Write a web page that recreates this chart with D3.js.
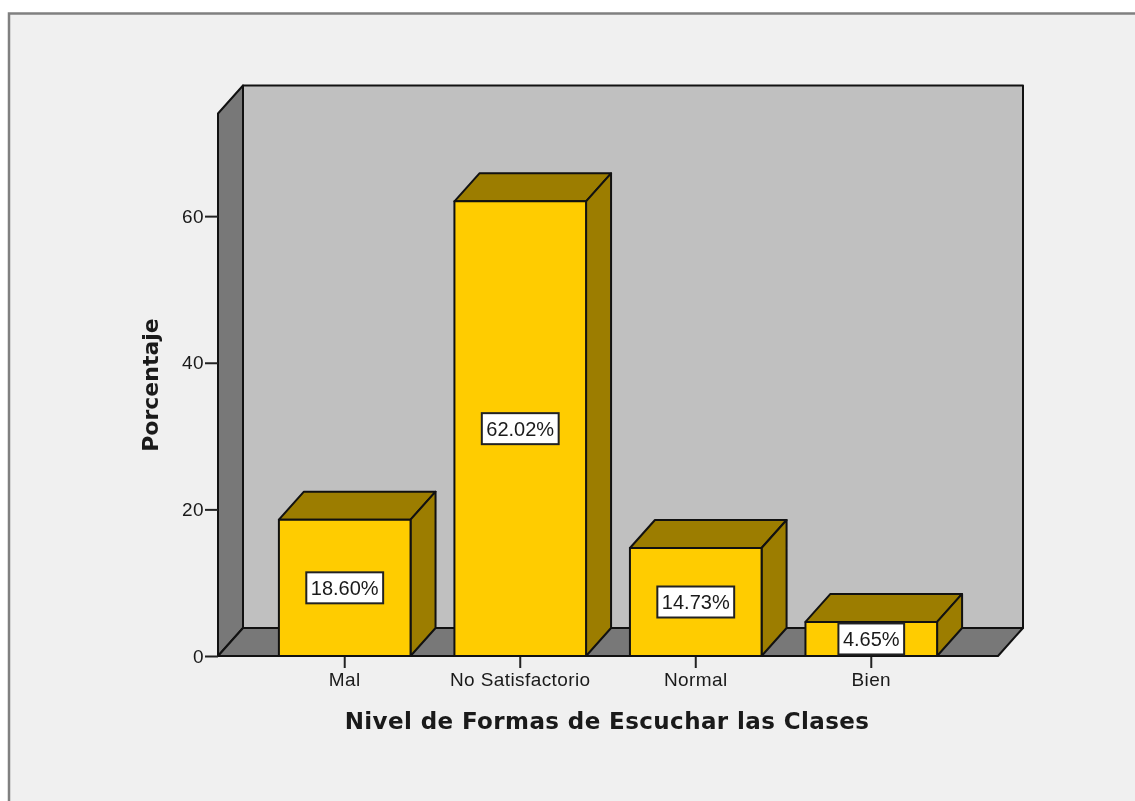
<!DOCTYPE html>
<html>
<head>
<meta charset="utf-8">
<script src="https://cdn.jsdelivr.net/npm/d3@7"></script>
<style>
    html, body { margin: 0; padding: 0; background: #fff; overflow: hidden; }
    svg { display: block; filter: blur(0.45px); }
    text { fill: #1a1a1a; }
</style>
</head>
<body>
<svg id="chart" width="1135" height="801"></svg>
<script>
// values
const categories = ["Mal", "No Satisfactorio", "Normal", "Bien"];
const percentages = [18.60, 62.02, 14.73, 4.65];
const percentLabels = ["18.60%", "62.02%", "14.73%", "4.65%"];
const yTicks = [0, 20, 40, 60];

const width = 1135, height = 801;
const depthX = 25, depthY = -28; // 3d offset of the back wall

const svg = d3.select("#chart");

const x = d3.scaleBand()
    .domain(categories)
    .range([218, 998])
    .paddingInner(0.25)
    .paddingOuter(0.347);

const y = d3.scaleLinear()
    .domain([0, 74])
    .range([656, 113.5]);

const line = d3.line();

function face(points, fill) {
    svg.append("path")
        .attr("d", line(points) + "Z")
        .attr("fill", fill)
        .attr("stroke", "#111")
        .attr("stroke-width", 2)
        .attr("stroke-linejoin", "round");
}

// outer frame
svg.append("rect")
    .attr("x", 9).attr("y", 13.5)
    .attr("width", width + 20).attr("height", height + 20)
    .attr("fill", "#f0f0f0")
    .attr("stroke", "#808080")
    .attr("stroke-width", 2.5);

// back wall, side wall, floor
const [x0, x1] = x.range();
const [y0, y1] = y.range();
face([[x0 + depthX, y0 + depthY], [x1 + depthX, y0 + depthY], [x1 + depthX, y1 + depthY], [x0 + depthX, y1 + depthY]], "#c0c0c0");
face([[x0, y0], [x0 + depthX, y0 + depthY], [x0 + depthX, y1 + depthY], [x0, y1]], "#787878");
face([[x0, y0], [x1, y0], [x1 + depthX, y0 + depthY], [x0 + depthX, y0 + depthY]], "#787878");

// y axis
const yAxis = svg.append("g")
    .attr("transform", `translate(${x0},0)`)
    .call(d3.axisLeft(y).tickValues(yTicks).tickSize(13).tickPadding(1).tickFormat(d3.format("d")));
yAxis.select(".domain").remove();

// x axis
const xAxis = svg.append("g")
    .attr("transform", `translate(0,${y0})`)
    .call(d3.axisBottom(x).tickSize(12).tickPadding(5));
xAxis.select(".domain").remove();

svg.selectAll(".tick line").attr("stroke", "#222").attr("stroke-width", 2);
svg.selectAll(".tick text")
    .attr("font-family", "'Liberation Sans', Arial, sans-serif")
    .attr("font-size", 19)
    .attr("letter-spacing", 0.4);

// bars
categories.forEach((c, i) => {
    const left = x(c), right = left + x.bandwidth();
    const top = y(percentages[i]);
    face([[left, top], [right, top], [right + depthX, top + depthY], [left + depthX, top + depthY]], "#9c7d00");
    face([[right, y0], [right + depthX, y0 + depthY], [right + depthX, top + depthY], [right, top]], "#9c7d00");
    face([[left, y0], [right, y0], [right, top], [left, top]], "#ffcc00");

    // value label box
    const cx = left + x.bandwidth() / 2, cy = (top + y0) / 2;
    const box = svg.append("rect").attr("fill", "#fff").attr("stroke", "#222").attr("stroke-width", 2);
    const label = svg.append("text")
        .attr("x", cx).attr("y", cy)
        .attr("dy", "0.36em")
        .attr("text-anchor", "middle")
        .attr("font-family", "'Liberation Sans', Arial, sans-serif")
        .attr("font-size", 20)
        .text(percentLabels[i]);
    const w = label.node().getComputedTextLength() + 9;
    box.attr("x", cx - w / 2).attr("y", cy - 15.5).attr("width", w).attr("height", 31);
});

// axis titles
svg.append("text")
    .attr("x", 607).attr("y", 729)
    .attr("text-anchor", "middle")
    .attr("font-family", "'DejaVu Sans', Verdana, sans-serif")
    .attr("font-weight", "bold")
    .attr("font-size", 23)
    .attr("letter-spacing", 0.4)
    .text("Nivel de Formas de Escuchar las Clases");

svg.append("text")
    .attr("transform", "translate(158,385) rotate(-90)")
    .attr("text-anchor", "middle")
    .attr("font-family", "'DejaVu Sans', Verdana, sans-serif")
    .attr("font-weight", "bold")
    .attr("font-size", 22)
    .text("Porcentaje");
</script>
</body>
</html>
